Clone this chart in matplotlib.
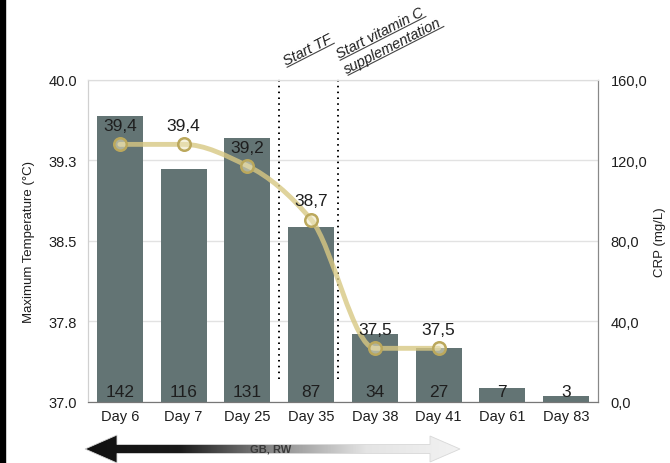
import numpy as np
import matplotlib
matplotlib.use("Agg")
import matplotlib.pyplot as plt
from matplotlib.path import Path
from matplotlib.patches import PathPatch, Polygon, Rectangle
from matplotlib.colors import LinearSegmentedColormap

days = ["Day 6", "Day 7", "Day 25", "Day 35", "Day 38", "Day 41", "Day 61", "Day 83"]
crp = [142, 116, 131, 87, 34, 27, 7, 3]
temp_days = [0, 1, 2, 3, 4, 5]
max_temp = [39.4, 39.4, 39.2, 38.7, 37.5, 37.5]
temp_ticks = [37.0, 37.75, 38.5, 39.25, 40.0]
temp_tick_labels = ["37.0", "37.8", "38.5", "39.3", "40.0"]
crp_ticks = [0, 40, 80, 120, 160]
crp_tick_labels = ["0,0", "40,0", "80,0", "120,0", "160,0"]

plt.rcParams["font.family"] = ["Liberation Sans", "DejaVu Sans"]

BAR = "#637474"
LINE = "#d8c883"
TXT = "#1e1e1e"


def smooth_path(xs, ys):
    # monotone cubic (pchip style) tangents -> bezier segments
    xs = np.asarray(xs, float)
    ys = np.asarray(ys, float)
    d = np.diff(ys) / np.diff(xs)
    m = np.zeros_like(ys)
    for i in range(1, len(ys) - 1):
        if d[i - 1] * d[i] > 0:
            m[i] = 2.0 / (1.0 / d[i - 1] + 1.0 / d[i])
    verts = [(xs[0], ys[0])]
    codes = [Path.MOVETO]
    for i in range(len(xs) - 1):
        h = xs[i + 1] - xs[i]
        verts += [(xs[i] + h / 3, ys[i] + m[i] * h / 3),
                  (xs[i + 1] - h / 3, ys[i + 1] - m[i + 1] * h / 3),
                  (xs[i + 1], ys[i + 1])]
        codes += [Path.CURVE4] * 3
    return Path(verts, codes)


fig = plt.figure(figsize=(6.7, 4.64), dpi=100)
ax = fig.add_axes([0.1313, 0.1315, 0.7612, 0.694])
ax2 = ax.twinx()
ax.set_zorder(ax2.get_zorder() + 1)
ax.patch.set_visible(False)

x = np.arange(len(days))
ax2.bar(x, crp, width=0.72, color=BAR, zorder=2)
ax2.set_ylim(0, 160)
ax2.set_yticks(crp_ticks)
ax2.set_yticklabels(crp_tick_labels)
ax2.set_axisbelow(True)
ax2.yaxis.grid(True, color="#e2e2e2", lw=1.0)
ax2.set_ylabel("CRP (mg/L)", fontsize=9.5, color=TXT, va="center")
ax2.yaxis.set_label_coords(1.122, 0.5)

for xi, v in zip(x, crp):
    ax2.annotate(str(v), (xi, 0), xytext=(0, 4), textcoords="offset points",
                 ha="center", va="baseline", fontsize=12.5, color=TXT, zorder=3)

# event markers
for xv in [2.5, 3.42]:
    ax2.plot([xv, xv], [11.5, 162], color="black", lw=1.4, ls=(0, (0.8, 2.2)),
             clip_on=False, zorder=4)

ax.set_xlim(-0.5, len(days) - 0.5)
ax.set_ylim(37.0, 40.0)
ax.set_yticks(temp_ticks)
ax.set_yticklabels(temp_tick_labels)
ax.set_xticks(x)
ax.set_xticklabels(days)
ax.set_ylabel("Maximum Temperature (\u00b0C)", fontsize=9.5, color=TXT)
ax.yaxis.set_label_coords(-0.104, 0.5)

ax.add_patch(PathPatch(smooth_path(temp_days, max_temp), fill=False,
                       edgecolor=LINE, lw=3.5, alpha=0.8, capstyle="round", zorder=3))
ax.plot(temp_days, max_temp, "o", ms=9, mfc=(0.93, 0.9, 0.75, 0.55),
        mec="#bba85c", mew=1.8, zorder=4)
for xi, t in zip(temp_days, max_temp):
    ax.annotate(f"{t:.1f}".replace(".", ","), (xi, t), xytext=(0, 8),
                textcoords="offset points", ha="center", va="bottom",
                fontsize=12.5, color=TXT, zorder=5)

for a in (ax, ax2):
    a.tick_params(length=0, labelsize=10.5, colors=TXT)
    a.spines["top"].set_color("#dddddd")
    a.spines["left"].set_color("#d0d0d0")
    a.spines["right"].set_color("#888888")
    a.spines["bottom"].set_color("#777777")
ax.tick_params(axis="y", pad=8)
ax2.tick_params(axis="y", pad=9)
ax.tick_params(axis="x", pad=5)

# annotations at top, rotated and underlined
ang = 27
notes = [("Start TF", 286, 66), ("Start vitamin C", 339, 59), ("supplementation", 347, 74)]
fig.canvas.draw()
rend = fig.canvas.get_renderer()
for s, px, py in notes:
    fx, fy = px / 670, (464 - py) / 464
    t = fig.text(fx, fy, s, fontsize=10.5, style="italic", color=TXT,
                 ha="left", va="baseline", rotation=ang, rotation_mode="anchor")
    tmp = fig.text(0, 0, s, fontsize=10.5, style="italic")
    w = tmp.get_window_extent(rend).width
    tmp.remove()
    c, sn = np.cos(np.radians(ang)), np.sin(np.radians(ang))
    off = 2.5
    x0, y0 = px + sn * off, (464 - py) - c * off
    x1, y1 = x0 + c * w, y0 + sn * w
    fig.add_artist(plt.Line2D([x0 / 670, x1 / 670], [y0 / 464, y1 / 464],
                              color="#444444", lw=0.8))

# gradient arrow at bottom
over = fig.add_axes([0, 0, 1, 1], zorder=10)
over.set_xlim(0, 670)
over.set_ylim(464, 0)
over.axis("off")
arrow_pts = [(85, 450), (117, 436), (117, 445.5), (430, 445.5), (430, 437),
             (460, 450), (430, 463), (430, 454.5), (117, 454.5), (117, 464)]
poly = Polygon(arrow_pts, closed=True, facecolor="none", edgecolor="#d8d8d8", lw=0.6)
over.add_patch(poly)
cmap = LinearSegmentedColormap.from_list("g", ["#111111", "#1a1a1a", "#8a8a8a", "#e4e4e4", "#f2f2f2"])
grad = np.linspace(0, 1, 256).reshape(1, -1)
im = over.imshow(grad, cmap=cmap, extent=(85, 460, 464, 436), aspect="auto")
im.set_clip_path(poly)
over.text(271, 450, "GB, RW", fontsize=8, fontweight="bold", color="#3a3a3a",
          ha="center", va="center")

fig.patches.append(Rectangle((0, 0), 5 / 670, 1, transform=fig.transFigure,
                             color="black", zorder=0))

fig.savefig("out.png", dpi=100)
